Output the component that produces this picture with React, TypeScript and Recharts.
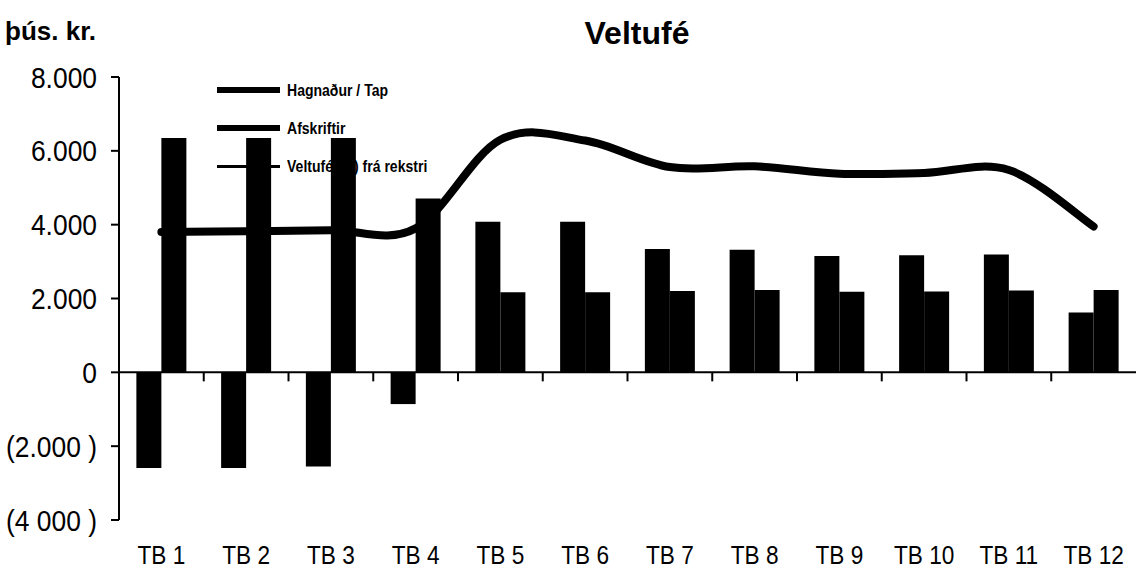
import React from 'react';
import { ComposedChart, Bar, Line, XAxis, YAxis, ReferenceLine, Legend } from 'recharts';

const categories = ['TB 1', 'TB 2', 'TB 3', 'TB 4', 'TB 5', 'TB 6', 'TB 7', 'TB 8', 'TB 9', 'TB 10', 'TB 11', 'TB 12'];
const hagnadur = [-2590, -2590, -2550, -860, 4080, 4080, 3340, 3320, 3150, 3170, 3190, 1620];
const afskriftir = [6350, 6350, 6350, 4710, 2170, 2170, 2200, 2230, 2180, 2190, 2220, 2230];
const veltufe = [3800, 3820, 3850, 3900, 6300, 6280, 5560, 5580, 5380, 5400, 5480, 3950];
const yTickValues = [-4000, -2000, 0, 2000, 4000, 6000, 8000];
const yTickLabels = ['(4 000 )', '(2.000 )', '0', '2.000', '4.000', '6.000', '8.000'];

const seriesNames = {
  h: 'Hagnaður / Tap',
  a: 'Afskriftir',
  v: 'Veltufé (til) frá rekstri',
};
const legendOrder = [seriesNames.h, seriesNames.a, seriesNames.v];
const title = 'Veltufé';
const unitLabel = 'þús. kr.';

const data = categories.map((cat, i) => ({
  cat,
  h: hagnadur[i],
  a: afskriftir[i],
  v: veltufe[i],
}));

const FONT = "'Liberation Sans', Arial, sans-serif";

// Catmull-Rom style smoothing (like a spreadsheet "smoothed line")
const smoothCurve = (context: any) => {
  let pts: Array<[number, number]> = [];
  return {
    areaStart() {},
    areaEnd() {},
    lineStart() {
      pts = [];
    },
    lineEnd() {
      if (!pts.length) return;
      context.moveTo(pts[0][0], pts[0][1]);
      const k = 1 / 6;
      for (let i = 0; i < pts.length - 1; i++) {
        const p0 = pts[Math.max(0, i - 1)];
        const p1 = pts[i];
        const p2 = pts[i + 1];
        const p3 = pts[Math.min(pts.length - 1, i + 2)];
        context.bezierCurveTo(
          p1[0] + k * (p2[0] - p0[0]),
          p1[1] + k * (p2[1] - p0[1]),
          p2[0] - k * (p3[0] - p1[0]),
          p2[1] - k * (p3[1] - p1[1]),
          p2[0],
          p2[1]
        );
      }
    },
    point(x: number, y: number) {
      pts.push([+x, +y]);
    },
  };
};

const ZeroAxis = (props: any) => {
  const { x1, y1, x2 } = props;
  const n = categories.length;
  const band = (x2 - x1) / n;
  const marks = [];
  for (let i = 1; i < n; i++) {
    const x = x1 + band * i;
    marks.push(<line key={i} x1={x} y1={y1} x2={x} y2={y1 + 9} stroke="#000" strokeWidth={2} />);
  }
  return (
    <g>
      <line x1={x1} y1={y1} x2={x2} y2={y1} stroke="#000" strokeWidth={2} />
      {marks}
    </g>
  );
};

const XTick = (props: any) => {
  const { x, y, payload } = props;
  return (
    <g transform={`translate(${x},${y})`}>
      <text
        transform="scale(0.87,1)"
        textAnchor="middle"
        dy="0.71em"
        fill="#000"
        fontSize={26}
        fontFamily={FONT}
      >
        {payload.value}
      </text>
    </g>
  );
};

const YTick = (props: any) => {
  const { x, y, payload } = props;
  const idx = yTickValues.indexOf(payload.value);
  const label = idx >= 0 ? yTickLabels[idx] : String(payload.value);
  return (
    <g transform={`translate(${x},${y})`}>
      <text
        transform="scale(0.88,1)"
        textAnchor="end"
        dy="0.355em"
        fill="#000"
        fontSize={30}
        fontFamily={FONT}
      >
        {label}
      </text>
    </g>
  );
};

const LegendContent = (props: any) => {
  const payload = [...(props.payload || [])].sort(
    (p: any, q: any) => legendOrder.indexOf(p.value) - legendOrder.indexOf(q.value)
  );
  return (
    <div style={{ fontFamily: FONT, fontWeight: 700, fontSize: 16.5, color: '#000' }}>
      {payload.map((entry: any, i: number) => (
        <div key={i} style={{ display: 'flex', alignItems: 'center', height: 38 }}>
          <div
            style={{
              width: 63,
              height: entry.type === 'line' ? 3 : 6,
              background: '#000',
              marginRight: 7,
              flex: 'none',
            }}
          />
          <span style={{ display: 'inline-block', transform: 'scaleX(0.85)', transformOrigin: 'left center', whiteSpace: 'nowrap' }}>
            {entry.value}
          </span>
        </div>
      ))}
    </div>
  );
};

export default function App() {
  return (
    <div style={{ position: 'absolute', left: 0, top: 0, width: 1136, height: 581, background: '#fff', zIndex: 0 }}>
      <div
        style={{
          position: 'absolute',
          left: 5,
          top: 18,
          fontFamily: FONT,
          fontWeight: 700,
          fontSize: 26,
          lineHeight: '26px',
          color: '#000',
        }}
      >
        {unitLabel}
      </div>
      <div
        style={{
          position: 'absolute',
          left: 537,
          width: 200,
          top: 17,
          textAlign: 'center',
          fontFamily: FONT,
          fontWeight: 700,
          fontSize: 32,
          lineHeight: '32px',
          color: '#000',
        }}
      >
        {title}
      </div>
      <ComposedChart
        width={1136}
        height={581}
        data={data}
        margin={{ top: 77, right: 0, bottom: 0, left: 0 }}
        barCategoryGap="20.5%"
        barGap={0}
      >
        <XAxis
          dataKey="cat"
          axisLine={false}
          tickLine={false}
          tickSize={0}
          tickMargin={26}
          height={61}
          interval={0}
          tick={<XTick />}
        />
        <YAxis
          type="number"
          domain={[-4000, 8000]}
          ticks={yTickValues}
          width={119}
          tickSize={8}
          tickMargin={14}
          axisLine={{ stroke: '#000', strokeWidth: 2 }}
          tickLine={{ stroke: '#000', strokeWidth: 2 }}
          tick={<YTick />}
          allowDataOverflow
        />
        <Legend
          layout="horizontal"
          verticalAlign="middle"
          align="center"
          content={<LegendContent />}
          wrapperStyle={{ position: 'absolute', left: 217, top: 71, width: 300, height: 114, zIndex: -1 }}
        />
        <Bar dataKey="h" name={seriesNames.h} fill="#000" isAnimationActive={false} legendType="rect" />
        <Bar dataKey="a" name={seriesNames.a} fill="#000" isAnimationActive={false} legendType="rect" />
        <ReferenceLine y={0} shape={<ZeroAxis />} ifOverflow="extendDomain" />
        <Line
          dataKey="v"
          name={seriesNames.v}
          type={smoothCurve as any}
          stroke="#000"
          strokeWidth={8}
          strokeLinecap="round"
          dot={false}
          activeDot={false}
          isAnimationActive={false}
          legendType="line"
        />
      </ComposedChart>
    </div>
  );
}
